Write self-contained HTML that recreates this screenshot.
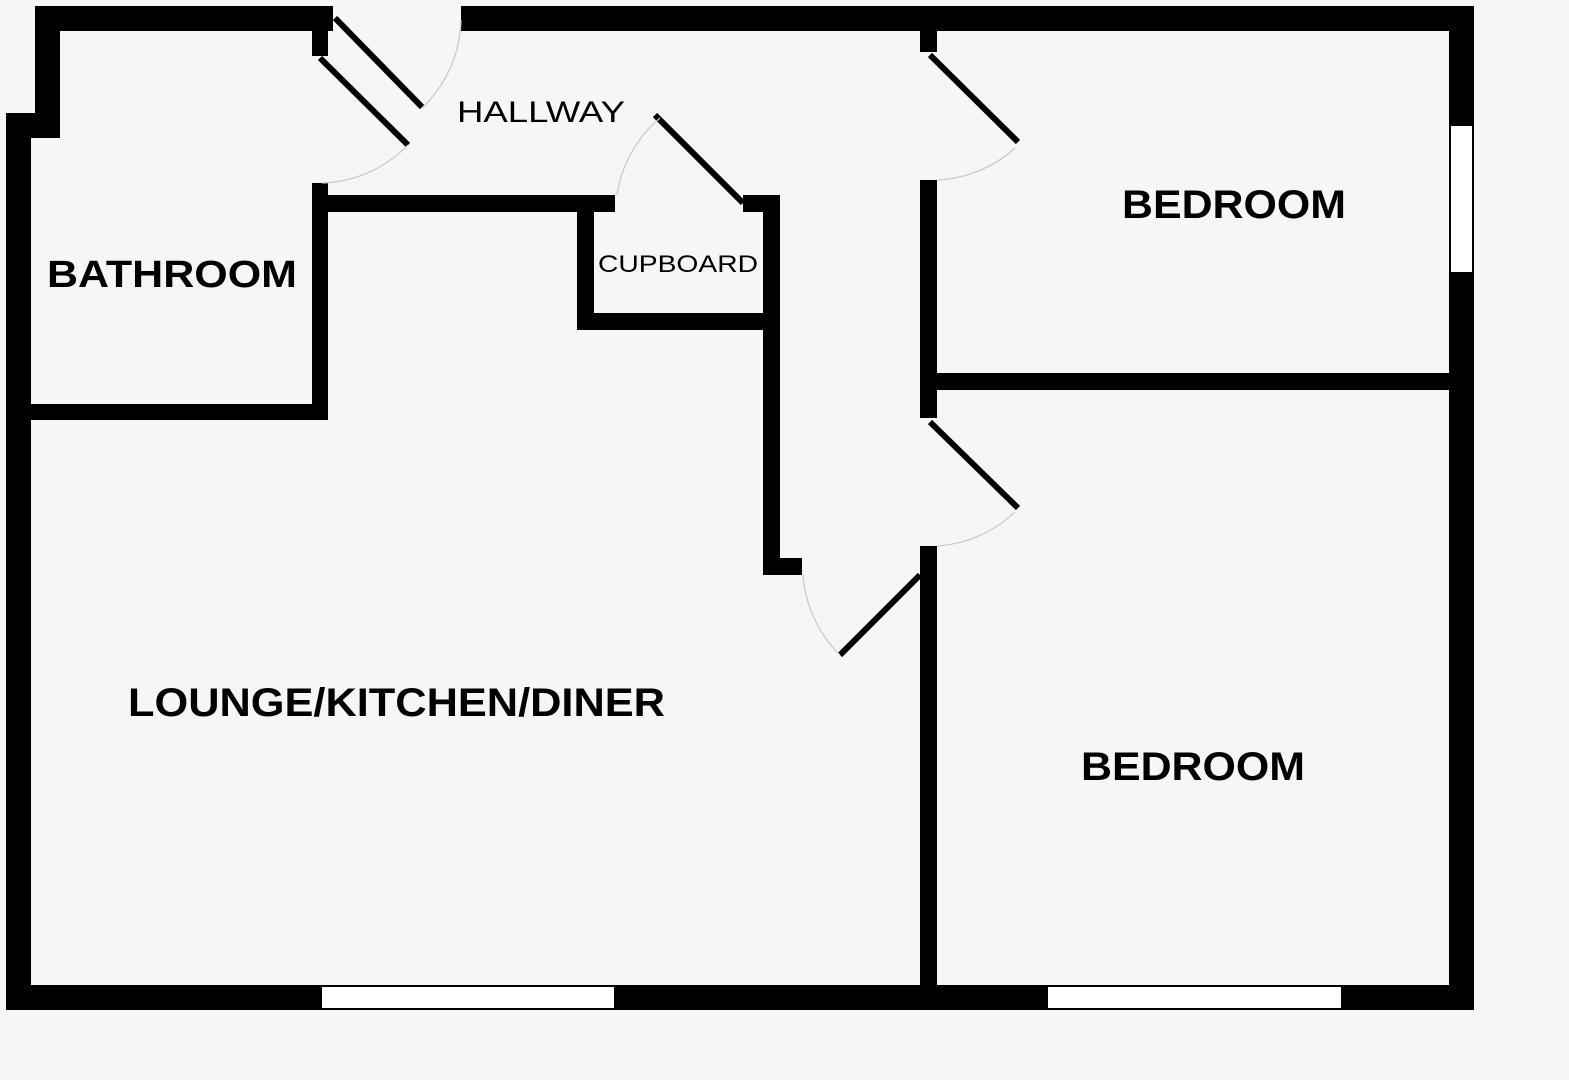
<!DOCTYPE html>
<html><head><meta charset="utf-8"><style>
html,body{margin:0;padding:0;background:#f5f6f8;}
svg{display:block;}
text{font-family:"Liberation Sans",Arial,sans-serif;fill:#000;}
</style></head><body>
<svg width="1569" height="1080" viewBox="0 0 1569 1080" xmlns="http://www.w3.org/2000/svg">
<rect width="1569" height="1080" fill="#f5f6f8"/>
<g fill="#000">
<!-- outer walls -->
<rect x="35" y="6" width="298" height="25"/>
<rect x="35" y="6" width="25" height="132"/>
<rect x="6" y="113" width="54" height="25"/>
<rect x="6" y="113" width="25" height="897"/>
<rect x="461" y="6" width="1013" height="25"/>
<rect x="1449" y="6" width="25" height="1004"/>
<rect x="6" y="985" width="1468" height="25"/>
<!-- bathroom -->
<rect x="312" y="31" width="16" height="25"/>
<rect x="312" y="183" width="16" height="237"/>
<rect x="31" y="404" width="297" height="16"/>
<!-- hallway/lounge wall -->
<rect x="328" y="195" width="287" height="17"/>
<!-- cupboard -->
<rect x="577" y="195" width="17" height="135"/>
<rect x="577" y="313" width="203" height="17"/>
<rect x="743" y="195" width="37" height="17"/>
<rect x="763" y="195" width="17" height="380"/>
<rect x="763" y="558" width="39" height="17"/>
<!-- middle wall -->
<rect x="920" y="31" width="17" height="21"/>
<rect x="920" y="180" width="17" height="238"/>
<rect x="920" y="546" width="17" height="464"/>
<rect x="937" y="373" width="512" height="17"/>
</g>
<!-- windows -->
<g fill="#fff" stroke="#000" stroke-width="2">
<rect x="1450" y="125" width="23" height="148"/>
<rect x="321" y="986" width="294" height="23"/>
<rect x="1047" y="986" width="295" height="23"/>
</g>
<!-- door leaves -->
<g stroke="#000" stroke-width="6">
<line x1="335" y1="18" x2="422" y2="107"/>
<line x1="320" y1="58" x2="408" y2="145"/>
<line x1="655" y1="115" x2="743" y2="203"/>
<line x1="930" y1="55" x2="1018" y2="142"/>
<line x1="930" y1="422" x2="1018" y2="508"/>
<line x1="920" y1="575" x2="840" y2="655"/>
</g>
<!-- arcs -->
<g fill="none" stroke="#c8c8c8" stroke-width="1.2">
<path d="M461 20 A125 125 0 0 1 422 108"/>
<path d="M408 145 A125 125 0 0 1 322 183"/>
<path d="M617 195 A125 125 0 0 1 660 118"/>
<path d="M1015 148 A125 125 0 0 1 937 180"/>
<path d="M1015 512 A125 125 0 0 1 937 546"/>
<path d="M803 575 A125 125 0 0 0 840 655"/>
</g>
<text x="457" y="122" font-size="30" textLength="168" lengthAdjust="spacingAndGlyphs">HALLWAY</text>
<text x="47" y="287" font-size="38" font-weight="bold" textLength="250" lengthAdjust="spacingAndGlyphs">BATHROOM</text>
<text x="598" y="272" font-size="24" textLength="160" lengthAdjust="spacingAndGlyphs">CUPBOARD</text>
<text x="1122" y="218" font-size="40" font-weight="bold" textLength="224" lengthAdjust="spacingAndGlyphs">BEDROOM</text>
<text x="1081" y="780" font-size="40" font-weight="bold" textLength="224" lengthAdjust="spacingAndGlyphs">BEDROOM</text>
<text x="128" y="716" font-size="40" font-weight="bold" textLength="537" lengthAdjust="spacingAndGlyphs">LOUNGE/KITCHEN/DINER</text>
</svg>
</body></html>
